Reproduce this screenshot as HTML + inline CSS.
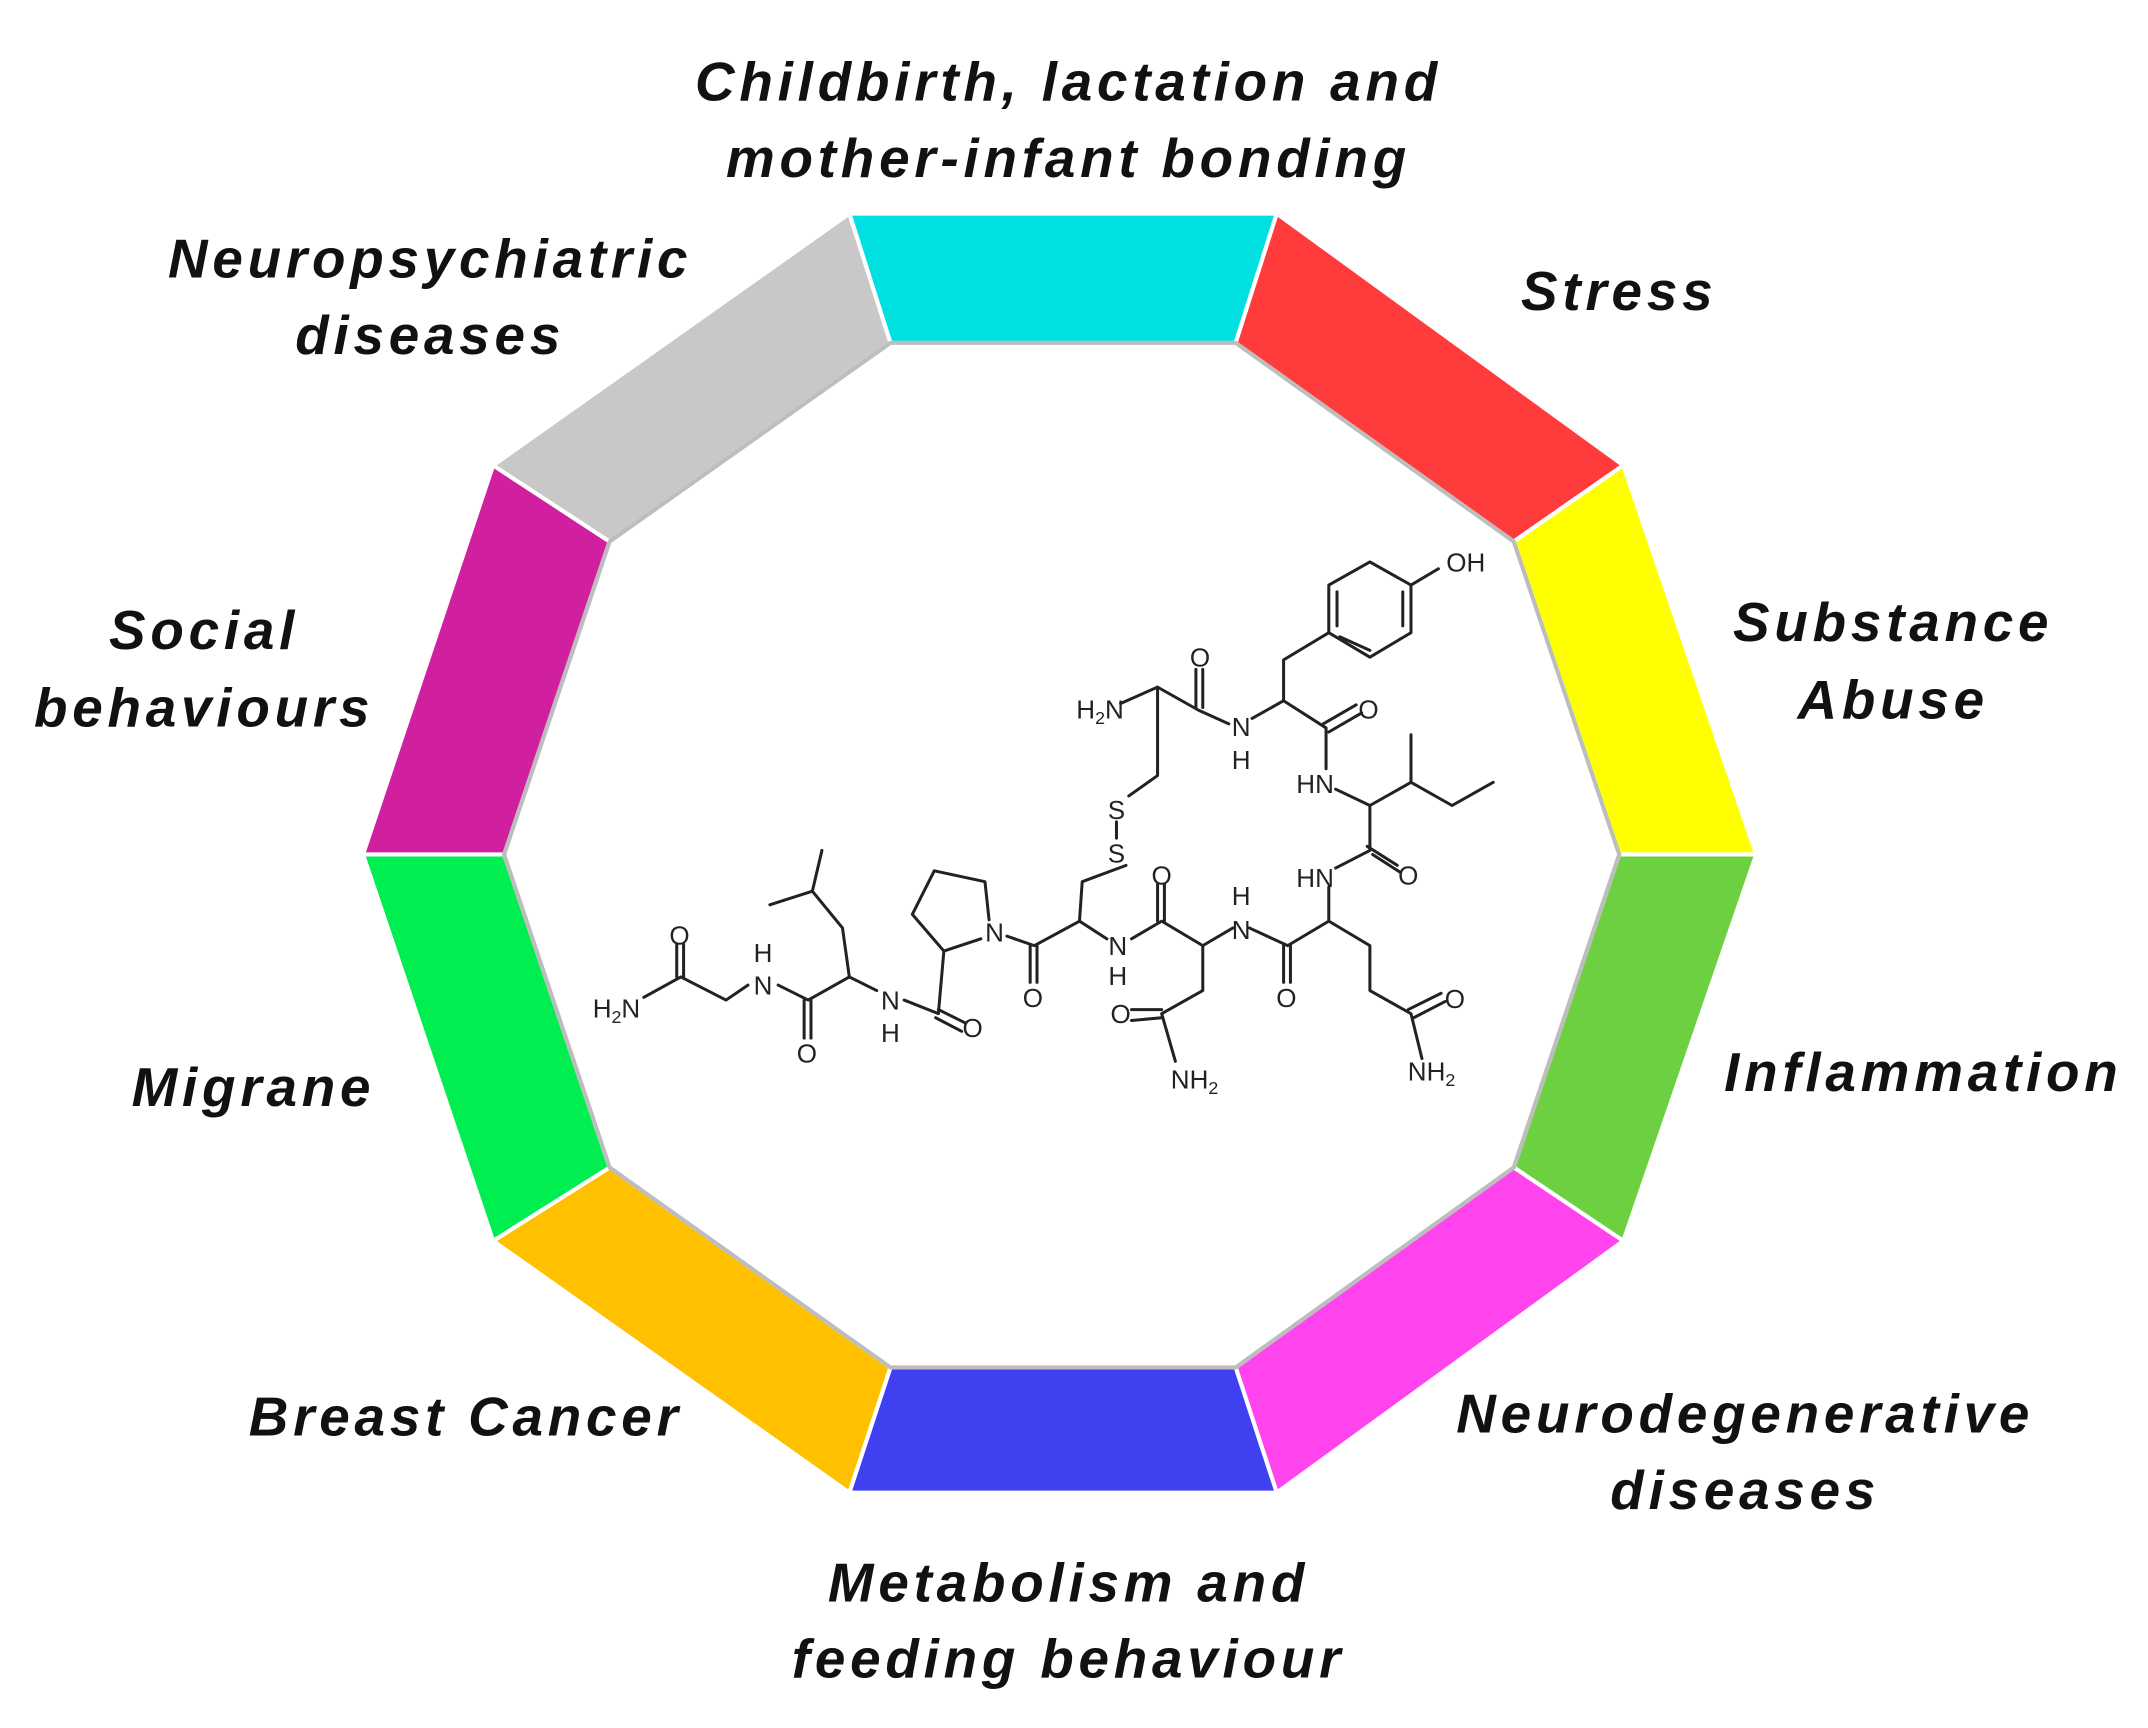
<!DOCTYPE html>
<html><head><meta charset="utf-8"><style>
html,body{margin:0;padding:0;background:#fff;}
svg{display:block;}
.lb{font-family:"Liberation Sans",sans-serif;font-weight:bold;font-style:italic;font-size:40px;letter-spacing:3.5px;fill:#111;text-anchor:middle;}
.at{font-family:"Liberation Sans",sans-serif;font-size:19px;fill:#222;text-anchor:middle;}
.b{stroke:#222;stroke-width:2.2;fill:none;stroke-linejoin:round;stroke-linecap:round;}
</style></head><body>
<svg width="2148" height="1728" viewBox="0 0 1568 1270" preserveAspectRatio="none" xmlns="http://www.w3.org/2000/svg">
<g stroke="#fff" stroke-width="3" stroke-linejoin="round">
<polygon points="620,157 932,157 902,252 650,252" fill="#00E0E0"/>
<polygon points="932,157 1185,342 1105,398 902,252" fill="#FF3B3B"/>
<polygon points="1185,342 1282,628 1182,628 1105,398" fill="#FFFF00"/>
<polygon points="1282,628 1185,912 1105,858 1182,628" fill="#6CD040"/>
<polygon points="1185,912 932,1097 902,1005 1105,858" fill="#FF44EE"/>
<polygon points="932,1097 620,1097 650,1005 902,1005" fill="#4040F0"/>
<polygon points="620,1097 360,912 445,858 650,1005" fill="#FFC000"/>
<polygon points="360,912 265,628 368,628 445,858" fill="#00EE50"/>
<polygon points="265,628 360,342 445,398 368,628" fill="#D020A0"/>
<polygon points="360,342 620,157 650,252 445,398" fill="#C8C8C8"/>
</g>
<polygon points="650,252 902,252 1105,398 1182,628 1105,858 902,1005 650,1005 445,858 368,628 445,398" fill="#fff" stroke="#bdbdbd" stroke-width="3"/>

<text class="lb" x="780" y="74">Childbirth, lactation and</text>
<text class="lb" x="780" y="130">mother-infant bonding</text>
<text class="lb" x="1182" y="228">Stress</text>
<text class="lb" x="1382" y="471">Substance</text>
<text class="lb" x="1382" y="528">Abuse</text>
<text class="lb" x="1404" y="802">Inflammation</text>
<text class="lb" x="1274" y="1053">Neurodegenerative</text>
<text class="lb" x="1274" y="1109">diseases</text>
<text class="lb" x="780" y="1177">Metabolism and</text>
<text class="lb" x="780" y="1233">feeding behaviour</text>
<text class="lb" x="340" y="1055">Breast Cancer</text>
<text class="lb" x="185" y="813">Migrane</text>
<text class="lb" x="149" y="477">Social</text>
<text class="lb" x="149" y="534">behaviours</text>
<text class="lb" x="314" y="204">Neuropsychiatric</text>
<text class="lb" x="314" y="260">diseases</text>

<g class="b">
<polyline points="818,517 845,505 875,522 897,532"/>
<line x1="873" y1="520" x2="873" y2="492"/><line x1="878" y1="520" x2="878" y2="492"/>
<polyline points="845,505 845,540 845,570 824,585"/>
<line x1="815" y1="604" x2="815" y2="616"/>
<polyline points="822,636 790,648 788,677"/>
<polyline points="914,528 937,515 937,485 970,465"/>
<polygon points="970,465 970,430 1000,413 1030,430 1030,465 1000,483"/>
<line x1="976" y1="460" x2="976" y2="435"/><line x1="1024" y1="435" x2="1024" y2="460"/><line x1="978" y1="468" x2="1000" y2="478"/>
<line x1="1030" y1="430" x2="1050" y2="418"/>
<polyline points="937,515 968,535 968,565"/>
<line x1="966" y1="532" x2="990" y2="518"/><line x1="970" y1="538" x2="994" y2="524"/>
<polyline points="975,580 1000,592 1030,575 1030,540"/>
<polyline points="1030,575 1060,592 1090,575"/>
<polyline points="1000,592 1000,625 975,638"/>
<line x1="998" y1="622" x2="1020" y2="636"/><line x1="1002" y1="628" x2="1022" y2="641"/>
<polyline points="970,652 970,677 940,695 912,682"/>
<line x1="937" y1="695" x2="937" y2="722"/><line x1="942" y1="695" x2="942" y2="722"/>
<polyline points="970,677 1000,695 1000,728 1030,745 1038,778"/>
<line x1="1028" y1="742" x2="1052" y2="730"/><line x1="1032" y1="748" x2="1055" y2="736"/>
<polyline points="900,682 878,695 848,677 826,690"/>
<line x1="845" y1="677" x2="845" y2="650"/><line x1="850" y1="677" x2="850" y2="650"/>
<polyline points="878,695 878,728 848,745 858,780"/>
<line x1="848" y1="742" x2="826" y2="742"/><line x1="848" y1="748" x2="826" y2="750"/>
<polyline points="808,690 788,677 755,695 735,688"/>
<line x1="752" y1="695" x2="752" y2="722"/><line x1="757" y1="695" x2="757" y2="722"/>
<polyline points="716,690 689,699 666,672 682,640 719,648 722,676"/>
<polyline points="689,699 685,745 660,735"/>
<line x1="685" y1="742" x2="705" y2="752"/><line x1="683" y1="748" x2="702" y2="758"/>
<polyline points="640,728 620,718 615,682 593,655 600,625"/>
<line x1="593" y1="655" x2="562" y2="665"/>
<polyline points="620,718 590,735 568,724"/>
<line x1="587" y1="735" x2="587" y2="763"/><line x1="592" y1="735" x2="592" y2="763"/>
<polyline points="546,724 530,735 497,718 470,733"/>
<line x1="494" y1="718" x2="494" y2="694"/><line x1="499" y1="718" x2="499" y2="694"/>
</g>
<g class="at">
<text x="803" y="528">H<tspan font-size="13" dy="4">2</tspan><tspan dy="-4">N</tspan></text>
<text x="876" y="490">O</text>
<text x="906" y="541">N</text><text x="906" y="565">H</text>
<text x="1070" y="420">OH</text>
<text x="999" y="528">O</text>
<text x="960" y="583">HN</text>
<text x="815" y="602">S</text><text x="815" y="634">S</text>
<text x="1028" y="650">O</text>
<text x="960" y="652">HN</text>
<text x="939" y="740">O</text>
<text x="1062" y="741">O</text>
<text x="1045" y="794">NH<tspan font-size="13" dy="4">2</tspan></text>
<text x="906" y="690">N</text><text x="906" y="665">H</text>
<text x="848" y="650">O</text>
<text x="818" y="752">O</text>
<text x="872" y="800">NH<tspan font-size="13" dy="4">2</tspan></text>
<text x="816" y="702">N</text><text x="816" y="724">H</text>
<text x="754" y="740">O</text>
<text x="726" y="692">N</text>
<text x="710" y="762">O</text>
<text x="650" y="742">N</text><text x="650" y="766">H</text>
<text x="589" y="781">O</text>
<text x="557" y="731">N</text><text x="557" y="707">H</text>
<text x="496" y="694">O</text>
<text x="450" y="748">H<tspan font-size="13" dy="4">2</tspan><tspan dy="-4">N</tspan></text>
</g>
</svg>
</body></html>
